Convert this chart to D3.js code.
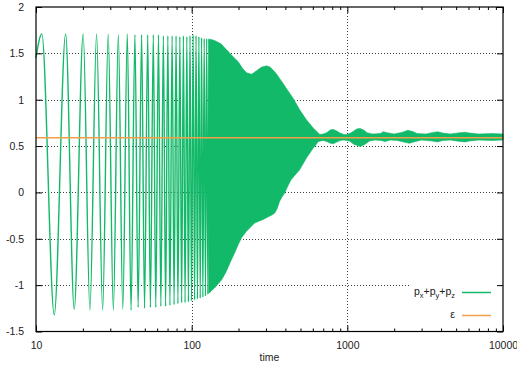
<!DOCTYPE html>
<html>
<head>
<meta charset="utf-8">
<script src="https://d3js.org/d3.v7.min.js"></script>
<style>
  body { margin: 0; background: #fff; }
  svg { display: block; font-family: "Liberation Sans", Arial, sans-serif; }
  .tick text { font-size: 10.5px; fill: #222; }
</style>
</head>
<body>
<div id="chart"></div>
<script>
// values
const startPoint = [10, 1.45];
const peaks = [
  [10.9,1.71],[15.5,1.71],[20.1,1.71],[24.5,1.71],[29.1,1.71],[33.8,1.70],[38.6,1.71],
  [43.2,1.70],[47.7,1.70],[52.2,1.70],[56.7,1.70],[61.2,1.70],[65.8,1.69],[70.3,1.69],
  [74.9,1.69],[79.4,1.69],[84.0,1.68],[88.5,1.69],[93.1,1.68],[97.6,1.69],[102.2,1.70],
  [106.7,1.69],[111.3,1.68],[115.8,1.67],[120.4,1.66],[124.9,1.66],[129.5,1.65],[134.0,1.65],
  [138.6,1.64],[143.1,1.63],[147.7,1.62],[152.2,1.61],[156.8,1.59],[161.3,1.56],[165.9,1.54],
  [170.4,1.52],[175.0,1.49]
];
const troughs = [
  [13.1,-1.32],[17.6,-1.26],[22.2,-1.27],[26.8,-1.27],[31.4,-1.27],[36.1,-1.26],[40.8,-1.27],
  [45.3,-1.24],[49.8,-1.25],[54.3,-1.24],[58.8,-1.24],[63.4,-1.23],[68.0,-1.23],[72.5,-1.22],
  [77.1,-1.21],[81.6,-1.20],[86.2,-1.19],[90.7,-1.19],[95.3,-1.18],[99.8,-1.17],[104.4,-1.16],
  [108.9,-1.15],[113.5,-1.14],[118.0,-1.13],[122.6,-1.12],[127.1,-1.10],[131.7,-1.08],
  [136.2,-1.05],[140.8,-1.03],[145.3,-1.00],[149.9,-0.98],[154.4,-0.95],[159.0,-0.91],
  [163.5,-0.87],[168.1,-0.83],[172.6,-0.78]
];
// envelope of the dense part
const upperEdge = [
  [128,1.655],[140,1.64],[155,1.60],[165,1.55],[176,1.50],[188,1.45],[199,1.41],[212,1.34],[225,1.29],
  [243,1.275],[260,1.31],[280,1.35],[303,1.365],[320,1.35],[333,1.32],[350,1.28],[367,1.23],
  [385,1.18],[405,1.125],[448,1.017],[494,0.891],[546,0.783],[604,0.694],[666,0.625],
  [700,0.63],[736,0.645],[780,0.675],[812,0.68],[850,0.665],[898,0.64],[950,0.625],[992,0.625],
  [1050,0.64],[1095,0.66],[1150,0.685],[1210,0.69],[1280,0.67],[1336,0.645],[1450,0.63],
  [1631,0.635],[1700,0.655],[1800,0.645],[2000,0.63],[2270,0.65],[2450,0.67],[2650,0.655],
  [2800,0.635],[3200,0.63],[3500,0.645],[3800,0.655],[4100,0.64],[4600,0.63],[5300,0.645],
  [5700,0.65],[6100,0.64],[7000,0.63],[8500,0.635],[10000,0.63]
];
const lowerEdge = [
  [128,-1.09],[140,-1.03],[156,-0.94],[166,-0.86],[176,-0.76],[188,-0.66],[199,-0.563],[209,-0.49],
  [225,-0.42],[240,-0.37],[254,-0.33],[270,-0.31],[286,-0.294],[309,-0.265],[330,-0.24],
  [343,-0.22],[355,-0.17],[367,-0.097],[380,-0.05],[396,-0.006],[415,0.07],[435,0.137],
  [494,0.245],[546,0.37],[604,0.478],[652,0.55],[700,0.56],[736,0.55],[780,0.53],[812,0.525],
  [850,0.54],[898,0.56],[950,0.565],[1030,0.555],[1100,0.52],[1210,0.495],[1300,0.52],
  [1390,0.555],[1500,0.565],[1650,0.56],[1750,0.55],[1900,0.565],[2100,0.56],[2300,0.545],
  [2500,0.53],[2750,0.55],[3000,0.565],[3500,0.555],[3800,0.545],[4100,0.56],[4600,0.565],
  [5300,0.55],[5700,0.545],[6100,0.555],[7000,0.565],[8500,0.56],[10000,0.565]
];
const epsilon = 0.59;
const xTicks = [10, 100, 1000, 10000];
const yTicks = [-1.5, -1, -0.5, 0, 0.5, 1, 1.5, 2];

const W = 517, H = 366;
const margin = {top: 7, right: 14, bottom: 34.5, left: 36};
const width = W - margin.left - margin.right,
      height = H - margin.top - margin.bottom;
const green = "#12b969", orange = "#f0a048";

const svg = d3.select("#chart").append("svg")
  .attr("width", W).attr("height", H);
const g = svg.append("g").attr("transform", `translate(${margin.left},${margin.top})`);

const x = d3.scaleLog().domain([10, 10000]).range([0, width]);
const y = d3.scaleLinear().domain([-1.5, 2]).range([height, 0]);

const minor = [];
xTicks.slice(0, -1).forEach(d => { for (let k = 2; k < 10; k++) minor.push(d * k); });

// grid
const grid = g.append("g").attr("stroke", "#000").attr("stroke-width", 1)
  .attr("stroke-dasharray", "1,2").attr("opacity", 0.75);
grid.selectAll(".gy").data(yTicks.slice(1, -1)).join("line")
  .attr("x1", 0).attr("x2", width)
  .attr("y1", d => Math.round(y(d)) + 0.5).attr("y2", d => Math.round(y(d)) + 0.5);
grid.selectAll(".gx").data(xTicks.slice(1, -1)).join("line")
  .attr("y1", 0).attr("y2", height)
  .attr("x1", d => Math.round(x(d)) + 0.5).attr("x2", d => Math.round(x(d)) + 0.5);

// key background
g.append("rect").attr("x", 375).attr("y", 276).attr("width", width - 377).attr("height", 45).attr("fill", "#fff");

// dense band
const pt = d3.line().x(d => x(d[0])).y(d => y(d[1]));
g.append("path")
  .datum(upperEdge.concat(lowerEdge.slice().reverse()))
  .attr("fill", green).attr("stroke", green).attr("stroke-width", 0.6)
  .attr("d", pt);

// resolved oscillations
const trace = [startPoint].concat(peaks, troughs).sort((a, b) => a[0] - b[0]);
g.append("path")
  .datum(trace)
  .attr("fill", "none").attr("stroke", green).attr("stroke-width", 1.4)
  .attr("d", d3.line().x(d => x(d[0])).y(d => y(d[1])).curve(d3.curveMonotoneX));

// epsilon
g.append("line")
  .attr("x1", x(10)).attr("x2", x(10000))
  .attr("y1", y(epsilon)).attr("y2", y(epsilon))
  .attr("stroke", orange).attr("stroke-width", 1.5);

// axes
function style(sel) {
  sel.select(".domain").remove();
  sel.selectAll(".tick line").attr("stroke", "#000");
}
g.append("g").attr("transform", `translate(0,${height})`)
  .call(d3.axisBottom(x).tickValues(xTicks).tickSize(-6).tickPadding(10).tickFormat(d3.format("d")))
  .call(style);
g.append("g").attr("transform", `translate(0,${height})`)
  .call(d3.axisBottom(x).tickValues(minor).tickSize(-3).tickFormat(""))
  .call(style);
g.append("g")
  .call(d3.axisTop(x).tickValues(xTicks).tickSize(-6).tickFormat(""))
  .call(style);
g.append("g")
  .call(d3.axisTop(x).tickValues(minor).tickSize(-3).tickFormat(""))
  .call(style);
g.append("g")
  .call(d3.axisLeft(y).tickValues(yTicks).tickSize(-6).tickPadding(12).tickFormat(d => String(d)))
  .call(style);
g.append("g").attr("transform", `translate(${width},0)`)
  .call(d3.axisRight(y).tickValues(yTicks).tickSize(-6).tickFormat(""))
  .call(style);

g.append("rect").attr("x", 0).attr("y", 0).attr("width", width).attr("height", height)
  .attr("fill", "none").attr("stroke", "#000").attr("stroke-width", 1.2);

// axis title
g.append("text").attr("x", width / 2).attr("y", height + 29)
  .attr("text-anchor", "middle").style("font-size", "10.5px").attr("fill", "#222")
  .text("time");

// key
const key = g.append("g").style("font-size", "10.5px").attr("fill", "#222");
const k1 = key.append("text").attr("x", 419).attr("y", 288).attr("text-anchor", "end");
k1.append("tspan").text("p");
k1.append("tspan").attr("dy", 3).style("font-size", "7.5px").text("x");
k1.append("tspan").attr("dy", -3).text("+p");
k1.append("tspan").attr("dy", 3).style("font-size", "7.5px").text("y");
k1.append("tspan").attr("dy", -3).text("+p");
k1.append("tspan").attr("dy", 3).style("font-size", "7.5px").text("z");
key.append("line").attr("x1", 426).attr("x2", 455).attr("y1", 285.5).attr("y2", 285.5)
  .attr("stroke", green).attr("stroke-width", 1.5);
key.append("text").attr("x", 419).attr("y", 311).attr("text-anchor", "end").text("\u03b5");
key.append("line").attr("x1", 426).attr("x2", 455).attr("y1", 308.5).attr("y2", 308.5)
  .attr("stroke", orange).attr("stroke-width", 1.5);
</script>
</body>
</html>
